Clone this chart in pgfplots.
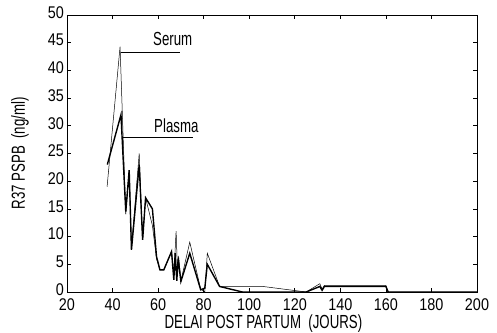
\documentclass[border=0pt]{standalone}
\usepackage{fontspec}
\setmainfont{Liberation Sans}
\newfontfamily\lab[FakeStretch=0.7]{Liberation Sans}
\newfontfamily\tck[FakeStretch=0.85]{Liberation Sans}
\usepackage{pgfplots}
\pgfplotsset{compat=1.18}
\begin{document}
\begin{tikzpicture}
\begin{axis}[
  scale only axis,
  width=410bp, height=277bp,
  xmin=20, xmax=200, ymin=0, ymax=50,
  xtick={20,40,...,200}, ytick={0,5,...,50},
  tick align=inside, major tick length=4bp,
  axis line style={line width=0.8pt},
  tick style={black, line width=0.6pt},
  /pgf/number format/assume math mode=true,
  tick label style={font=\tck\fontsize{17}{17}\selectfont, inner sep=0pt},
  xticklabel style={yshift=-6bp},
  yticklabel style={xshift=-3bp, yshift=2.5bp},
  xlabel={DELAI POST PARTUM \ (JOURS)},
  ylabel={R37 PSPB \ (ng/ml)},
  xlabel style={font=\lab\fontsize{19}{19}\selectfont, inner sep=0pt, at={(axis description cs:0.479,0)}, anchor=center, yshift=-32bp},
  ylabel style={font=\lab\fontsize{19}{19}\selectfont, at={(axis description cs:-0.1146,0.5)}, anchor=center},
  clip=false,
]
% Serum (thin)
\addplot[black, line width=0.5pt] coordinates {
(37.6,19) (43.3,44.3) (45.8,14) (47.3,22) (48.3,8) (51.7,25) (53.2,9.5) (54.5,17)
(57.5,12) (59.3,6) (60.8,4) (62.5,4) (65.9,7.3) (66.9,3) (67.9,11) (68.5,4) (69,6.5)
(70,2) (73.9,9) (78.7,0.5) (80.5,0) (81.6,7) (87,1) (106,1) (125,0) (131,1.5)
(132,0.5) (133,1.2) (160,1.2) (161,0) (200,0)
};
% Plasma (thick)
\addplot[black, line width=1.4pt] coordinates {
(37.7,23) (43.7,32) (45.8,14.5) (47.3,22) (48.3,7.6) (51.7,23) (53.2,9.4) (54.5,17)
(57.5,15) (59.3,6.4) (60.8,4) (62.5,4) (65.9,7.3) (66.9,2.2) (67.5,7) (68.2,2) (68.8,6)
(70,1.9) (73.9,7) (78.7,0.4) (80.5,0.7) (81.6,5) (87,1) (97,0) (125,0) (131,1)
(132,0.3) (133,1) (160,1) (161,0) (200,0)
};
% label leader lines
\addplot[black, line width=0.6pt] coordinates {(43.7,43.3) (69.5,43.3)};
\addplot[black, line width=0.6pt] coordinates {(44.8,28) (75.2,28)};
\node[font=\lab\fontsize{19}{19}\selectfont] at (axis cs:66.4,45.7) {Serum};
\node[font=\lab\fontsize{19}{19}\selectfont] at (axis cs:68.0,30.1) {Plasma};
\end{axis}
\path (current axis.south west) ++(-67bp,-41bp) rectangle ++(497bp,333bp);
\end{tikzpicture}
\end{document}
